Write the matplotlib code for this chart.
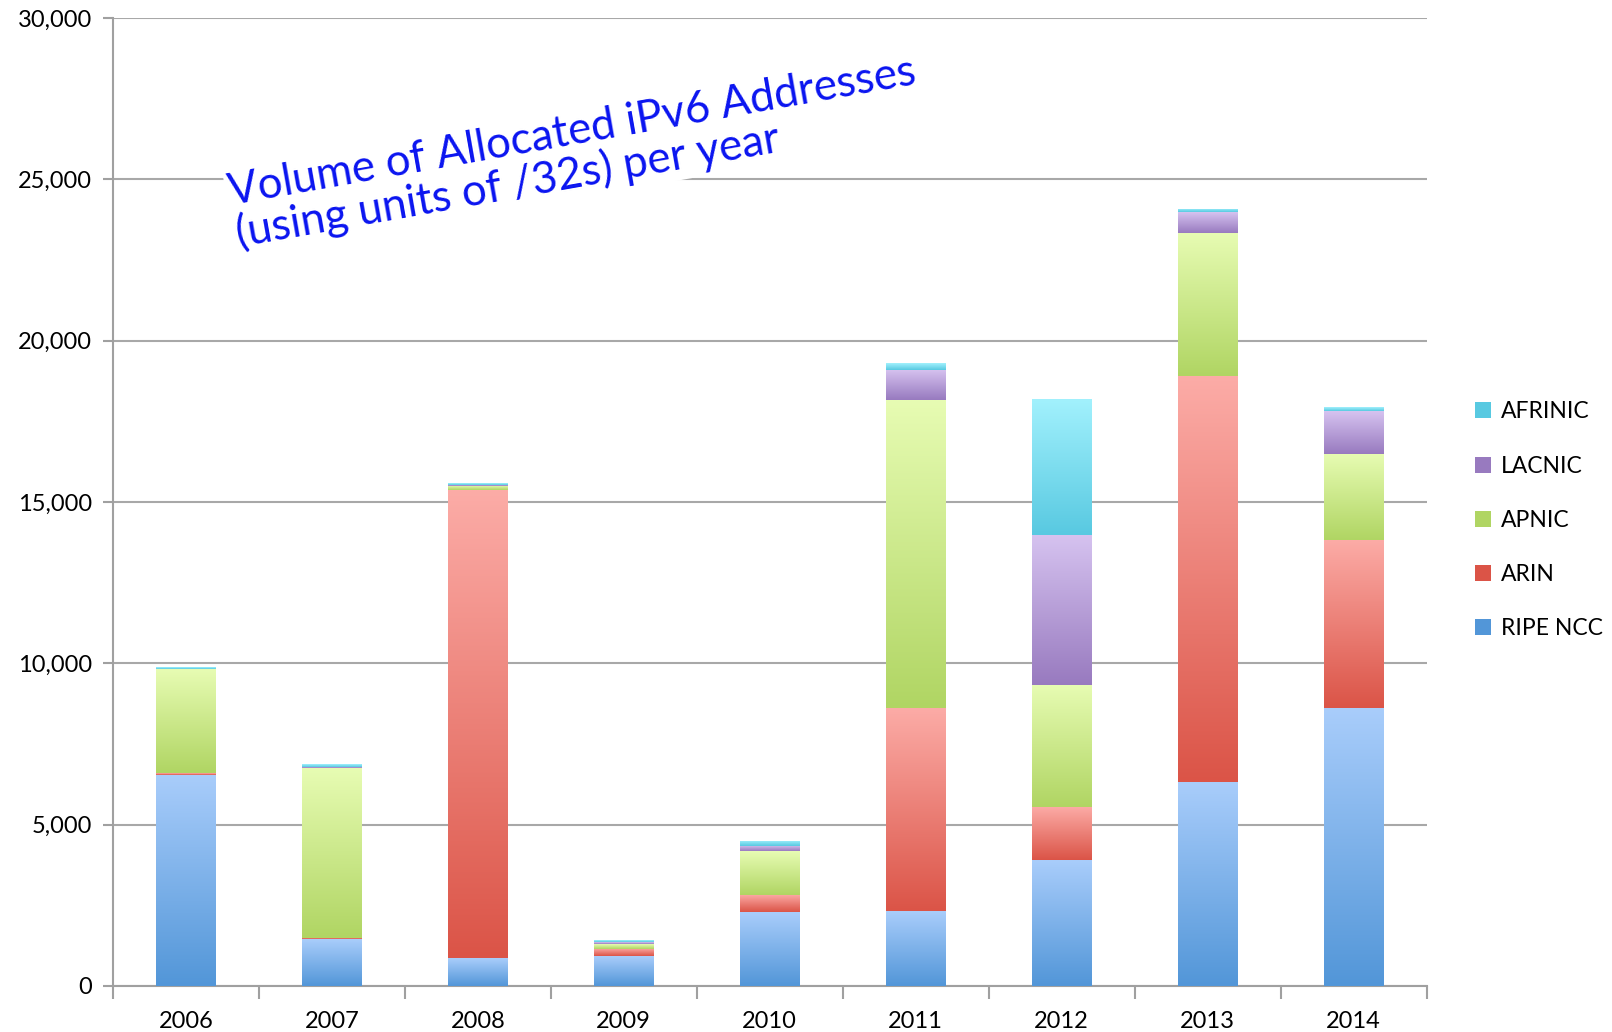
import numpy as np
import matplotlib
matplotlib.use("Agg")
import matplotlib.pyplot as plt
from matplotlib.colors import LinearSegmentedColormap
from matplotlib.patches import Patch

years = ['2006', '2007', '2008', '2009', '2010', '2011', '2012', '2013', '2014']

# volumes in /32 units
ripe = [6550, 1450, 860, 920, 2290, 2320, 3890, 6310, 8600]
arin = [60, 50, 14500, 230, 540, 6310, 1650, 12580, 5220]
apnic = [3200, 5250, 130, 150, 1340, 9520, 3790, 4450, 2680]
lacnic = [20, 50, 40, 60, 160, 950, 4650, 640, 1330]
afrinic = [50, 80, 60, 60, 160, 200, 4200, 100, 100]

series = [
	('RIPE NCC', ripe, '#a9cdfb', '#5296d8'),
	('ARIN', arin, '#fcaca7', '#db5447'),
	('APNIC', apnic, '#e7fcb3', '#b0d563'),
	('LACNIC', lacnic, '#d6c3f0', '#987abf'),
	('AFRINIC', afrinic, '#a2f1fd', '#58c9e1'),
]

plt.rcParams['font.family'] = ['Lato', 'DejaVu Sans']

fig = plt.figure(figsize=(16.12, 10.32), dpi=100)
ax = fig.add_axes([0.070, 0.0446, 0.815, 0.938])

x = np.arange(len(years))
width = 0.41
bottom = np.zeros(len(years))
grad = np.linspace(0, 1, 256).reshape(-1, 1)

for name, vals, top_c, bot_c in series:
	vals = np.array(vals, dtype=float)
	bars = ax.bar(x, vals, width, bottom=bottom, color='none', edgecolor='none', zorder=3)
	cmap = LinearSegmentedColormap.from_list(name, [bot_c, top_c])
	# vertical gradient clipped to each bar segment
	for b in bars:
		x0, y0 = b.get_x(), b.get_y()
		w, h = b.get_width(), b.get_height()
		im = ax.imshow(grad, cmap=cmap, origin='lower', aspect='auto',
			extent=[x0, x0 + w, y0, y0 + h], zorder=3)
		im.set_clip_path(b)
	bottom += vals

ax.set_xlim(-0.5, len(years) - 0.5)
ax.set_ylim(0, 30000)
ax.set_aspect('auto')

ax.set_yticks(np.arange(0, 30001, 5000))
ax.set_yticklabels([f'{v:,}' for v in range(0, 30001, 5000)])
ax.yaxis.grid(True, color='#a8a8a8', linewidth=1.5, zorder=0)
ax.set_axisbelow(True)

ax.set_xticks(x)
ax.set_xticklabels(years)
ax.set_xticks(np.arange(-0.5, len(years), 1.0), minor=True)
ax.tick_params(axis='x', which='major', length=0, pad=18, labelsize=17)
ax.tick_params(axis='x', which='minor', length=9, width=1.5, color='#a0a0a0')
ax.tick_params(axis='y', length=7, width=1.5, color='#a0a0a0', pad=8, labelsize=17)

for s in ['top', 'right']:
	ax.spines[s].set_visible(False)
for s in ['left', 'bottom']:
	ax.spines[s].set_color('#a0a0a0')
	ax.spines[s].set_linewidth(1.5)

leg_handles = [Patch(facecolor=c2, edgecolor='none', label=n)
	for n, v, c1, c2 in reversed(series)]
ax.legend(handles=leg_handles, loc='center left', bbox_to_anchor=(1.021, 0.481),
	frameon=False, fontsize=16.5, handlelength=0.7, handleheight=0.7,
	handletextpad=0.45, labelspacing=1.45)

ax.text(2.67, 25800, 'Volume of Allocated iPv6 Addresses\n(using units of /32s) per year',
	color='#0a14f0', fontsize=31.5, rotation=10, rotation_mode='anchor',
	ha='center', va='center', multialignment='left', linespacing=1.0, zorder=5,
	bbox=dict(facecolor='white', edgecolor='none', pad=2))

fig.savefig('out.png', dpi=100)
